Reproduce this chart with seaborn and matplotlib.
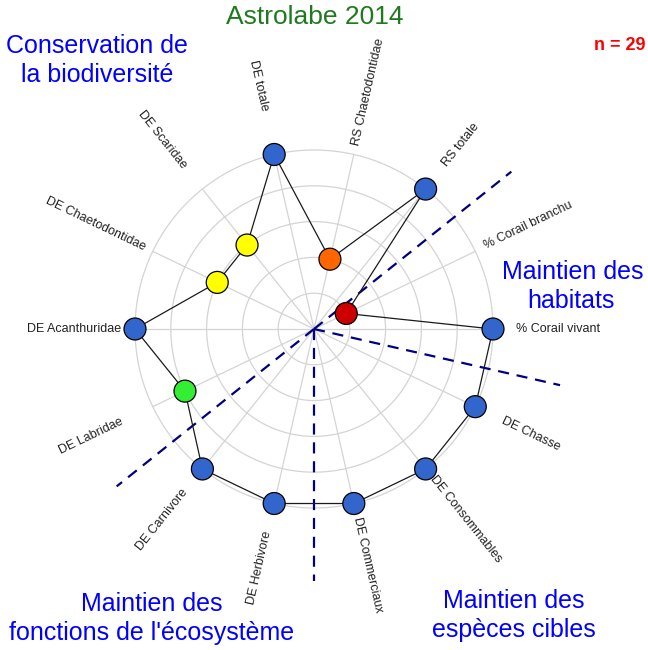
import numpy as np
import pandas as pd
import seaborn as sns
import matplotlib
import matplotlib.pyplot as plt

matplotlib.use("Agg")

# --- data ---
axis_labels = ["% Corail vivant", "% Corail branchu", "RS totale",
               "RS Chaetodontidae", "DE totale", "DE Scaridae",
               "DE Chaetodontidae", "DE Acanthuridae", "DE Labridae",
               "DE Carnivore", "DE Herbivore", "DE Commerciaux",
               "DE Consommables", "DE Chasse"]
scores = [1.0, 0.2, 1.0, 0.4, 1.0, 0.6, 0.6, 1.0, 0.8, 1.0, 1.0, 1.0, 1.0, 1.0]
score_levels = [0.2, 0.4, 0.6, 0.8, 1.0]
level_colors = ["#cc0000", "#ff6600", "#ffff00", "#33ee33", "#3366cc"]
group_bounds = [1.5, 8.5, 10.5, 13.5]   # separators, in axis-index units
title = "Astrolabe 2014"
n_obs = 29

# layout (pixels of the 648x650 figure)
CX, CY, R = 314, 329, 179
W, H = 648, 650
label_r = [1.13, 1.06, 1.17, 1.05, 1.25, 1.16, 1.05,
           1.08, 1.19, 1.15, 1.16, 1.08, 1.06, 1.17]
group_text = [
    ("Conservation de", 97, 46), ("la biodiversité", 97, 75),
    ("Maintien des", 573, 272), ("habitats", 571, 301),
    ("Maintien des", 152, 604), ("fonctions de l'écosystème", 152, 633),
    ("Maintien des", 514, 601), ("espèces cibles", 514, 630),
]


def px(x, y):
    return (x - CX) / R, (CY - y) / R


def main():
    sns.set_style("white")
    plt.rcParams["font.family"] = ["Liberation Sans", "DejaVu Sans"]

    n = len(axis_labels)
    angles = np.arange(n) * 2 * np.pi / n

    fig = plt.figure(figsize=(W / 100, H / 100), dpi=100)
    ax = fig.add_axes([0, 0, 1, 1])
    ax.set_xlim(-CX / R, (W - CX) / R)
    ax.set_ylim(-(H - CY) / R, CY / R)
    ax.axis("off")

    # grid: rings and spokes
    t = np.linspace(0, 2 * np.pi, 400)
    for lev in score_levels:
        ax.plot(lev * np.cos(t), lev * np.sin(t), color="#d4d4d4", lw=0.9, zorder=1)
    for a in angles:
        ax.plot([0, np.cos(a)], [0, np.sin(a)], color="#d4d4d4", lw=0.9, zorder=1)

    # group separators
    for b in group_bounds:
        a = b * 2 * np.pi / n
        ax.plot([0, 1.41 * np.cos(a)], [0, 1.41 * np.sin(a)], color="#000080",
                lw=1.6, ls=(0, (5, 3.5)), zorder=2)

    df = pd.DataFrame({
        "label": axis_labels,
        "score": scores,
        "x": np.array(scores) * np.cos(angles),
        "y": np.array(scores) * np.sin(angles),
    })
    closed = pd.concat([df, df.iloc[[0]]], ignore_index=True)

    sns.lineplot(data=closed, x="x", y="y", sort=False, color="#1a1a1a",
                 lw=0.9, estimator=None, ax=ax, zorder=3)
    palette = dict(zip(score_levels, level_colors))
    sns.scatterplot(data=df, x="x", y="y", hue="score", palette=palette,
                    s=250, edgecolor="black", linewidth=0.9, legend=False,
                    ax=ax, zorder=4)

    # axis labels
    for lab, a, r in zip(axis_labels, angles, label_r):
        deg = np.degrees(a)
        if np.cos(a) >= 0:
            rot, ha = deg if deg <= 90 else deg - 360, "left"
        else:
            rot, ha = deg - 180, "right"
        ax.text(r * np.cos(a), r * np.sin(a), lab, rotation=rot, ha=ha,
                va="center", rotation_mode="anchor", fontsize=9,
                color="#222222")

    for txt, x, y in group_text:
        ax.text(*px(x, y), txt, ha="center", va="center", fontsize=18,
                color="#0000ff")

    ax.text(*px(315, 17), title, ha="center", va="center", fontsize=19,
            color="#1f7a1f")
    ax.text(*px(645, 45), "n = %d" % n_obs, ha="right", va="center",
            fontsize=13, fontweight="bold", color="#ff0000")

    ax.set_xlabel("")
    ax.set_ylabel("")
    fig.savefig("out.png", dpi=100)


if __name__ == "__main__":
    main()
